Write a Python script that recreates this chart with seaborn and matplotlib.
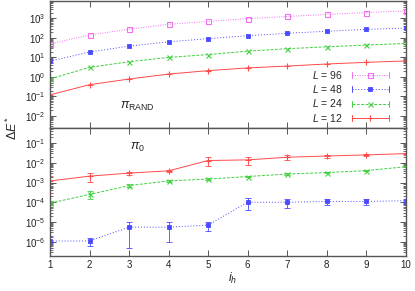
import numpy as np
import matplotlib
matplotlib.use("Agg")
import matplotlib.pyplot as plt
import seaborn as sns
from matplotlib.ticker import NullFormatter, FixedLocator, LogFormatterSciNotation
from matplotlib.legend_handler import HandlerLine2D
from matplotlib.lines import Line2D

# ---- data ----
ih = [1, 2, 3, 4, 5, 6, 7, 8, 9, 10]
labels = ["96", "48", "24", "12"]

rand_96 = [49, 142, 280, 500, 700, 980, 1260, 1600, 2000, 2450]
rand_48 = [6.5, 19, 38, 63, 92, 130, 173, 220, 275, 320]
rand_24 = [0.79, 3.1, 6.0, 10, 14, 21, 28, 35, 43, 52]
rand_12 = [0.12, 0.40, 0.78, 1.4, 2.1, 2.9, 3.6, 4.6, 5.6, 6.6]

pi0_48 = [1.1e-6, 1.1e-6, 5.5e-6, 5.5e-6, 7e-6, 1.0e-4, 1.0e-4, 1.1e-4, 1.1e-4, 1.2e-4]
pi0_48_err = [0.6e-6, 0.5e-6, 5e-6, 4.5e-6, 3.5e-6, 6e-5, 5e-5, 4e-5, 4e-5, 3.5e-5]
pi0_24 = [9e-5, 2.5e-4, 7e-4, 1.2e-3, 1.5e-3, 2.0e-3, 2.7e-3, 3.2e-3, 4.0e-3, 6.3e-3]
pi0_24_err = [2e-5, 1.1e-4, 1e-4, 1e-4, 1.5e-4, 2e-4, 2e-4, 2e-4, 3e-4, 4e-4]
pi0_12 = [1.2e-3, 2.1e-3, 3.0e-3, 3.9e-3, 0.013, 0.014, 0.019, 0.022, 0.025, 0.029]
pi0_12_err = [0.9e-3, 1.0e-3, 0.5e-3, 0.4e-3, 0.006, 0.006, 0.005, 0.004, 0.004, 0.003]

top_decades = [-2, -1, 0, 1, 2, 3]
bot_decades = [-6, -5, -4, -3, -2, -1]

# ---- style ----
sns.set_style("ticks")
plt.rcParams["font.family"] = ["Liberation Sans", "DejaVu Sans"]
plt.rcParams["mathtext.fontset"] = "custom"
plt.rcParams["mathtext.rm"] = "Liberation Sans"
plt.rcParams["mathtext.it"] = "Liberation Sans:italic"
plt.rcParams["mathtext.bf"] = "Liberation Sans:bold"

FS = 7.0
frame = "#555555"
styles = {
    "96": dict(color="#f070f0", linestyle=(0, (1, 1.5)), marker="s", mfc="none", ms=3.6, mew=0.8),
    "48": dict(color="#4a4aff", linestyle=(0, (1, 2)), marker="s", mfc="#4a4aff", ms=2.6, mew=0.6),
    "24": dict(color="#40d040", linestyle=(0, (3, 1.5)), marker="x", mfc="none", ms=3.6, mew=0.8),
    "12": dict(color="#ff4a4a", linestyle="-", marker="+", mfc="none", ms=4.0, mew=0.8),
}

fig = plt.figure(figsize=(4.15, 2.91), dpi=100)
axt = fig.add_axes([50 / 415, 1 - 128 / 291, 355.7 / 415, 127.5 / 291])
axb = fig.add_axes([50 / 415, 1 - 256 / 291, 355.7 / 415, 128 / 291])

top_series = {"96": rand_96, "48": rand_48, "24": rand_24, "12": rand_12}
bot_series = {"48": (pi0_48, pi0_48_err), "24": (pi0_24, pi0_24_err), "12": (pi0_12, pi0_12_err)}

for key in ["12", "24", "48", "96"]:
    st = styles[key]
    sns.lineplot(x=ih, y=top_series[key], ax=axt, color=st["color"], linestyle=st["linestyle"],
                 marker=st["marker"], markerfacecolor=st["mfc"], markeredgecolor=st["color"],
                 markersize=st["ms"], markeredgewidth=st["mew"], linewidth=0.7, label=f"$L$ = {key}")
for key in ["12", "24", "48"]:
    st = styles[key]
    vals, err = bot_series[key]
    sns.lineplot(x=ih, y=vals, ax=axb, color=st["color"], linestyle=st["linestyle"],
                 marker=st["marker"], markerfacecolor=st["mfc"], markeredgecolor=st["color"],
                 markersize=st["ms"], markeredgewidth=st["mew"], linewidth=0.7, legend=False)
    axb.errorbar(ih, vals, yerr=err, fmt="none", ecolor=st["color"], elinewidth=0.6,
                 capsize=2, capthick=0.6)

for ax, dec, lims in ((axt, top_decades, (-2.62, 3.92)), (axb, bot_decades, (-6.72, -0.24))):
    ax.set_yscale("log")
    ax.set_xlim(1, 10)
    ax.set_ylim(10 ** lims[0], 10 ** lims[1])
    ax.xaxis.set_major_locator(FixedLocator(ih))
    ax.yaxis.set_major_locator(FixedLocator([10.0 ** d for d in dec]))
    ax.yaxis.set_major_formatter(LogFormatterSciNotation())
    minors = [m * 10.0 ** d for d in range(int(np.floor(lims[0])), int(np.ceil(lims[1])))
              for m in range(2, 10) if lims[0] <= np.log10(m * 10.0 ** d) <= lims[1]]
    ax.yaxis.set_minor_locator(FixedLocator(minors))
    ax.yaxis.set_minor_formatter(NullFormatter())
    ax.tick_params(which="both", direction="in", top=True, right=True, colors="#222222",
                   labelsize=FS, pad=3)
    ax.tick_params(which="major", length=4, width=0.7, color=frame)
    ax.tick_params(which="minor", length=2, width=0.6, color=frame)
    for s in ax.spines.values():
        s.set_color(frame)
        s.set_linewidth(1.0)
    ax.set_xlabel("")
    ax.set_ylabel("")

axt.tick_params(labelbottom=False)


class CapHandler(HandlerLine2D):
    def create_artists(self, legend, orig_handle, xdescent, ydescent, width, height, fontsize, trans):
        arts = super().create_artists(legend, orig_handle, xdescent, ydescent, width, height, fontsize, trans)
        yc = height / 2 - ydescent
        c = orig_handle.get_color()
        for xx in (-xdescent, width - xdescent):
            cap = Line2D([xx, xx], [yc - 2.2, yc + 2.2], color=c, lw=0.7, transform=trans)
            arts.append(cap)
        return arts


h, l = axt.get_legend_handles_labels()
order = [l.index(f"$L$ = {k}") for k in labels]
leg = axt.legend([h[i] for i in order], [l[i] for i in order], loc="lower right",
                 bbox_to_anchor=((389 - 50) / 355.7, 0.035), frameon=False, fontsize=7.5,
                 markerfirst=False, handlelength=3.6, handletextpad=0.85, labelspacing=0.22,
                 borderpad=0, borderaxespad=0, numpoints=1,
                 handler_map={Line2D: CapHandler()})

axt.text(0.197, 0.17, r"$\pi_{\mathrm{RAND}}$", transform=axt.transAxes, fontsize=9,
         ha="left", va="center")
axb.text(0.225, 0.85, r"$\pi_0$", transform=axb.transAxes, fontsize=9, ha="left", va="center")

fig.text(12 / 415, 1 - 128 / 291, r"$\Delta E^*$", rotation=90, ha="center", va="center", fontsize=9)
fig.text(233 / 415, 1 - 278 / 291, r"$i_h$", ha="center", va="center", fontsize=9)

fig.savefig("out.png", dpi=100)
